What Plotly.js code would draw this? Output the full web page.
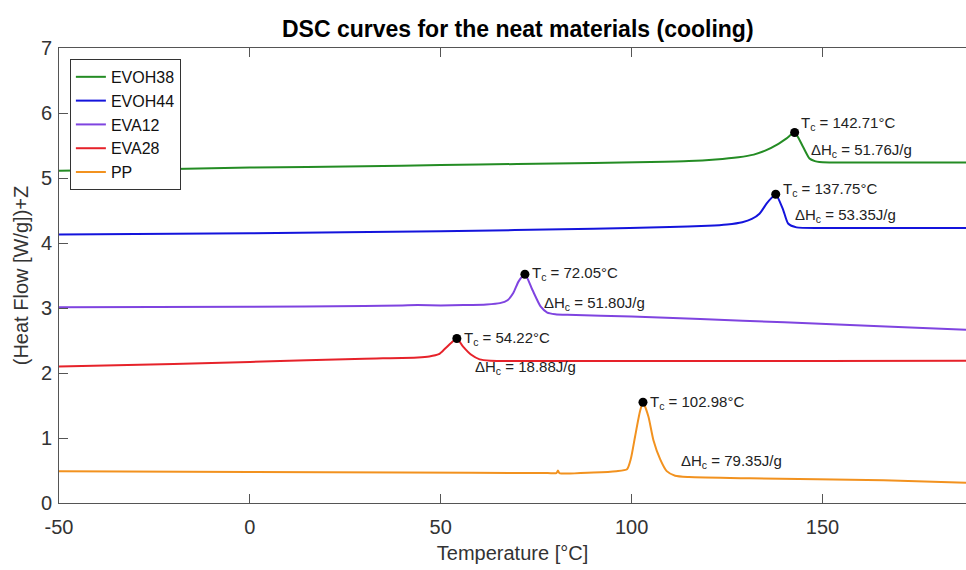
<!DOCTYPE html>
<html>
<head>
<meta charset="utf-8">
<script src="https://cdn.plot.ly/plotly-3.0.1.min.js"></script>
<style>html,body{margin:0;padding:0;background:#fff;}#chart{width:966px;height:570px;}</style>
</head>
<body>
<div id="chart"></div>
<script>
// ---- data ----
const seriesNames = ['EVOH38', 'EVOH44', 'EVA12', 'EVA28', 'PP'];

const evoh38Temp = [-50, -20, 0, 30, 50, 70, 90, 105, 115, 122, 128, 132, 135, 138, 140.6, 142.71, 144.9, 146.6, 148, 149.2, 152, 170, 187.6];
const evoh38Flow = [5.11, 5.14, 5.16, 5.18, 5.20, 5.215, 5.23, 5.245, 5.26, 5.285, 5.32, 5.36, 5.42, 5.51, 5.61, 5.70, 5.48, 5.30, 5.26, 5.245, 5.24, 5.24, 5.24];

const evoh44Temp = [-50, 0, 50, 90, 110, 120, 125, 129, 131.5, 133.5, 135.4, 136.6, 137.75, 139.7, 141, 143.2, 150, 187.6];
const evoh44Flow = [4.13, 4.15, 4.18, 4.22, 4.245, 4.265, 4.285, 4.32, 4.37, 4.45, 4.61, 4.69, 4.75, 4.51, 4.30, 4.24, 4.23, 4.23];

const eva12Temp = [-50, 0, 30, 40, 44, 50, 56, 62, 65.5, 67.5, 69, 70.4, 72.05, 74, 76.2, 77.9, 80, 83.2, 100, 118, 140, 165, 187.6];
const eva12Flow = [3.01, 3.02, 3.03, 3.04, 3.045, 3.04, 3.045, 3.055, 3.075, 3.12, 3.23, 3.41, 3.52, 3.28, 3.02, 2.93, 2.905, 2.895, 2.87, 2.83, 2.78, 2.72, 2.665];

const eva28Temp = [-50, -20, 0, 30, 44, 47, 49.5, 50.9, 52.7, 54.22, 55.8, 58, 60.2, 63, 70, 100, 150, 187.6];
const eva28Flow = [2.10, 2.14, 2.17, 2.22, 2.24, 2.255, 2.29, 2.36, 2.46, 2.53, 2.41, 2.28, 2.21, 2.19, 2.185, 2.185, 2.185, 2.19];

const ppTemp = [-50, 0, 40, 78, 80.3, 80.7, 81.1, 90, 96, 98.8, 99.8, 100.9, 102.2, 102.98, 104.4, 105.7, 107.5, 109.2, 111.4, 115, 131, 166, 187.6];
const ppFlow = [0.49, 0.477, 0.47, 0.46, 0.46, 0.50, 0.46, 0.47, 0.49, 0.52, 0.68, 1.02, 1.41, 1.55, 1.33, 0.97, 0.67, 0.49, 0.42, 0.40, 0.38, 0.35, 0.31];

const tcTemps = [142.71, 137.75, 72.05, 54.22, 102.98];
const tcFlows = [5.70, 4.75, 3.52, 2.53, 1.55];
const tcLabels = ['142.71', '137.75', '72.05', '54.22', '102.98'];
const dhLabels = ['51.76', '53.35', '51.80', '18.88', '79.35'];

const xTicks = [-50, 0, 50, 100, 150];
const xTickText = ['-50', '0', '50', '100', '150'];
const yTicks = [0, 1, 2, 3, 4, 5, 6, 7];

// ---- styling / placement ----
const colors = ['#248c24', '#1414dc', '#7f44e0', '#e6222a', '#f2921f'];
const tcShift = [[4, 9], [5, 5], [5, 1], [5, 0], [5, 0]];
const dhPos = [[146.5, 5.43], [142.3, 4.42], [76.6, 3.075], [58.5, 2.09], [112.5, 0.64]];

const temps = [evoh38Temp, evoh44Temp, eva12Temp, eva28Temp, ppTemp];
const flows = [evoh38Flow, evoh44Flow, eva12Flow, eva28Flow, ppFlow];

const font = '"Liberation Sans", Arial, Helvetica, sans-serif';

const traces = seriesNames.map((n, i) => ({
  type: 'scatter', mode: 'lines', name: n,
  x: temps[i], y: flows[i],
  line: {color: colors[i], width: 2, shape: 'spline', smoothing: 0.6}
}));
traces.push({
  type: 'scatter', mode: 'markers', x: tcTemps, y: tcFlows, showlegend: false,
  marker: {color: '#000', size: 9}, hoverinfo: 'skip'
});

const annotations = [];
tcTemps.forEach((t, i) => {
  annotations.push({
    x: t, y: tcFlows[i], xref: 'x', yref: 'y', showarrow: false,
    xanchor: 'left', yanchor: 'middle', xshift: tcShift[i][0], yshift: tcShift[i][1],
    text: 'T<sub>c</sub> = ' + tcLabels[i] + '°C',
    font: {family: font, size: 15, color: '#222'}
  });
  annotations.push({
    x: dhPos[i][0], y: dhPos[i][1], xref: 'x', yref: 'y', showarrow: false,
    xanchor: 'left', yanchor: 'middle',
    text: 'ΔH<sub>c</sub> = ' + dhLabels[i] + 'J/g',
    font: {family: font, size: 15, color: '#222'}
  });
});

const layout = {
  width: 966, height: 570,
  margin: {l: 59, r: 0, t: 48, b: 67},
  paper_bgcolor: '#fff', plot_bgcolor: '#fff',
  font: {family: font, color: '#333'},
  title: {text: '<b>DSC curves for the neat materials (cooling)</b>',
          font: {family: font, size: 23, color: '#000'},
          x: 0.536, xanchor: 'center', y: 0.95, yanchor: 'middle'},
  xaxis: {
    range: [-50, 187.6], tickvals: xTicks, ticktext: xTickText, ticks: 'inside', ticklen: 9,
    tickcolor: '#555', showline: true, linecolor: '#555', linewidth: 1,
    mirror: 'ticks', showgrid: false, zeroline: false,
    tickfont: {family: font, size: 20, color: '#333'}, ticklabelstandoff: 6,
    title: {text: 'Temperature [°C]', font: {family: font, size: 20, color: '#333'}, standoff: 8}
  },
  yaxis: {
    range: [0, 7], tickvals: yTicks, ticks: 'inside', ticklen: 9,
    tickcolor: '#555', showline: true, linecolor: '#555', linewidth: 1,
    showgrid: false, zeroline: false,
    tickfont: {family: font, size: 20, color: '#333'}, ticklabelstandoff: 2,
    title: {text: '(Heat Flow [W/g])+Z', font: {family: font, size: 20, color: '#333'}, standoff: 6}
  },
  legend: {
    x: 0.012, y: 0.976, xanchor: 'left', yanchor: 'top',
    bgcolor: '#fff', bordercolor: '#333', borderwidth: 1,
    font: {family: font, size: 16, color: '#111'},
    tracegroupgap: 0, itemwidth: 30
  },
  annotations: annotations,
  showlegend: true
};

Plotly.newPlot('chart', traces, layout, {displayModeBar: false, staticPlot: true});
</script>
</body>
</html>
